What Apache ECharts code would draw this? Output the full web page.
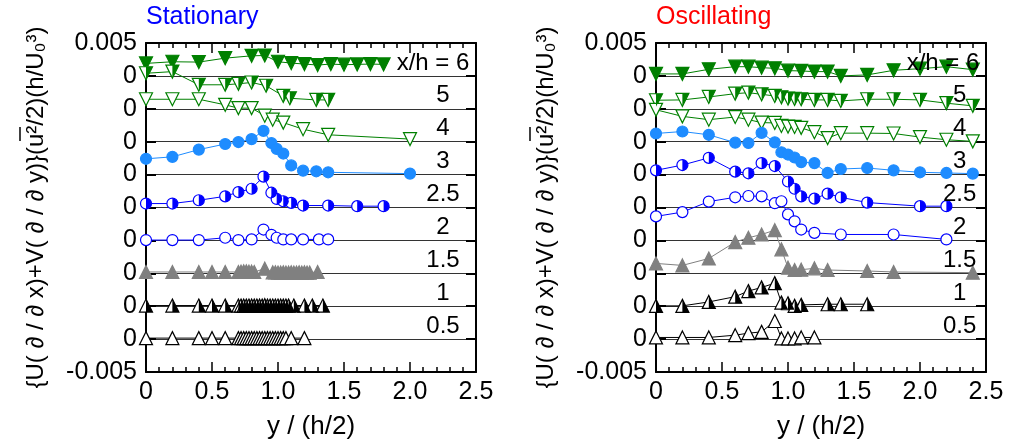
<!DOCTYPE html>
<html>
<head>
<meta charset="utf-8">
<script src="https://cdn.jsdelivr.net/npm/echarts@6/dist/echarts.min.js"></script>
<style>
html, body { margin: 0; padding: 0; background: #fff; }
#chart { width: 1021px; height: 445px; }
</style>
</head>
<body>
<div id="chart"></div>
<script>
// Profile names (top to bottom) and the vertical offset each profile is drawn at
const profileLabels = ['x/h = 6', '5', '4', '3', '2.5', '2', '1.5', '1', '0.5'];
const profileOffsets = [0.004, 0.003, 0.002, 0.001, 0, -0.001, -0.002, -0.003, -0.004];
const xTickLabels = ['0', '0.5', '1.0', '1.5', '2.0', '2.5'];
const yTickLabels = ['-0.005', '0', '0', '0', '0', '0', '0', '0', '0', '0', '0.005'];
const panelTitles = ['Stationary', 'Oscillating'];

// ---- Stationary cylinder ----
const statX6 = [0, 0.2, 0.4, 0.6, 0.8, 0.9, 1.0, 1.1, 1.2, 1.3, 1.4, 1.5, 1.6, 1.7, 1.8];
const statV6 = [0.00038, 0.00043, 0.00042, 0.00054, 0.00061, 0.00062, 0.00043, 0.00039, 0.00036, 0.00033, 0.00036, 0.00034, 0.00035, 0.00036, 0.00035];
const statX5 = [0, 0.2, 0.4, 0.6, 0.7, 0.8, 0.91, 1.04, 1.09, 1.29, 1.38];
const statV5 = [0.00108, 0.00113, 0.00073, 0.00073, 0.00076, 0.0008, 0.0007, 0.00039, 0.00032, 0.00027, 0.00027];
const statX4 = [0, 0.2, 0.4, 0.6, 0.7, 0.8, 0.9, 0.96, 1.04, 1.19, 1.38, 2.0];
const statV4 = [0.00129, 0.00129, 0.00129, 0.00112, 0.00102, 0.00102, 0.00079, 0.00067, 0.00058, 0.00038, 0.00021, 0.00008];
const statX3 = [0, 0.2, 0.4, 0.6, 0.7, 0.8, 0.89, 0.95, 0.99, 1.04, 1.1, 1.19, 1.29, 1.38, 2.0];
const statV3 = [0.00048, 0.00054, 0.00076, 0.00093, 0.00099, 0.00108, 0.00133, 0.00096, 0.00078, 0.00064, 0.00028, 0.00012, 0.0001, 0.00007, 0.00003];
const statX25 = [0, 0.2, 0.4, 0.6, 0.7, 0.8, 0.89, 0.95, 0.99, 1.04, 1.1, 1.19, 1.38, 1.6, 1.8];
const statV25 = [0.00012, 0.00012, 0.00022, 0.00034, 0.00047, 0.00057, 0.00094, 0.00045, 0.00026, 0.00019, 0.00014, 0.00006, 0.00006, 0.00004, 0.00004];
const statX2 = [0, 0.2, 0.4, 0.6, 0.7, 0.8, 0.89, 0.95, 0.99, 1.04, 1.1, 1.19, 1.31, 1.38];
const statV2 = [0.00001, 0.00001, 0.00001, 0.00008, 0.00001, 0.00003, 0.00033, 0.00017, 0.00008, 0.00003, 0.00003, 0.00003, 0.00003, 0.00003];
const statX15 = [0, 0.2, 0.4, 0.5, 0.6, 0.7, 0.72, 0.74, 0.76, 0.78, 0.8, 0.82, 0.9, 0.96, 0.98, 1.0, 1.02, 1.04, 1.06, 1.08, 1.1, 1.12, 1.14, 1.16, 1.18, 1.2, 1.22, 1.24, 1.3];
const statV15 = [0.00004, 0.00004, 0.00004, 0.00004, 0.00004, 0.00004, 0.00005, 0.00006, 0.00006, 0.00005, 0.00005, 0.00004, 0.00014, 0.00003, 0.00003, 0.00002, 0.00002, 0.00003, 0.00002, 0.00002, 0.00003, 0.00002, 0.00002, 0.00003, 0.00002, 0.00003, 0.00002, 0.00002, 0.00004];
const statX1 = [0, 0.2, 0.4, 0.5, 0.6, 0.7, 0.72, 0.74, 0.76, 0.78, 0.8, 0.82, 0.84, 0.86, 0.88, 0.9, 0.92, 0.94, 0.96, 0.98, 1.0, 1.02, 1.04, 1.06, 1.08, 1.12, 1.2, 1.26, 1.34];
const statV1 = [0.00002, 0.00002, 0.00002, 0.00002, 0.00002, 0.00002, 0.00002, 0.00002, 0.00002, 0.00002, 0.00002, 0.00002, 0.00002, 0.00002, 0.00002, 0.00003, 0.00002, 0.00002, 0.00002, 0.00002, 0.00002, 0.00002, 0.00002, 0.00002, 0.00002, 0.00002, 0.00002, 0.00002, 0.00002];
const statX05 = [0, 0.2, 0.4, 0.5, 0.6, 0.7, 0.72, 0.74, 0.76, 0.78, 0.8, 0.82, 0.84, 0.86, 0.88, 0.9, 0.92, 0.94, 0.96, 0.98, 1.0, 1.02, 1.04, 1.06, 1.1, 1.2];
const statV05 = [0.00003, 0.00003, 0.00003, 0.00003, 0.00003, 0.00003, 0.00003, 0.00003, 0.00003, 0.00003, 0.00003, 0.00003, 0.00003, 0.00003, 0.00003, 0.00003, 0.00003, 0.00003, 0.00003, 0.00003, 0.00003, 0.00003, 0.00003, 0.00003, 0.00003, 0.00003];

// ---- Oscillating cylinder ----
const oscX6 = [0, 0.2, 0.4, 0.6, 0.7, 0.8, 0.9, 1.0, 1.1, 1.2, 1.3, 1.4, 1.6, 1.8, 2.0, 2.2, 2.4];
const oscV6 = [0.00006, 0.00006, 0.0002, 0.00028, 0.00028, 0.00025, 0.00023, 0.00016, 0.00015, 0.00013, 0.00013, 0.0, 0.00003, 0.00017, 0.00022, 0.00028, 0.00019];
const oscX5 = [0, 0.2, 0.4, 0.6, 0.7, 0.8, 0.9, 0.95, 1.0, 1.05, 1.1, 1.2, 1.3, 1.4, 1.6, 1.8, 2.0, 2.2, 2.4];
const oscV5 = [0.00026, 0.00027, 0.00036, 0.00046, 0.00049, 0.00044, 0.00039, 0.00035, 0.00031, 0.0003, 0.00029, 0.00027, 0.00027, 0.00024, 0.00029, 0.00029, 0.00027, 0.00017, 0.00009];
const oscX4 = [0, 0.2, 0.4, 0.6, 0.7, 0.8, 0.9, 0.95, 1.0, 1.05, 1.1, 1.2, 1.3, 1.4, 1.6, 1.8, 2.0, 2.2, 2.4];
const oscV4 = [0.00097, 0.00077, 0.00067, 0.00075, 0.00067, 0.00058, 0.00057, 0.00048, 0.00046, 0.00045, 0.00042, 0.00029, 0.00011, 0.00026, 0.00026, 0.00025, 0.00014, 0.00006, 0.00001];
const oscX3 = [0, 0.2, 0.4, 0.6, 0.7, 0.8, 0.9, 0.95, 1.0, 1.05, 1.1, 1.2, 1.3, 1.4, 1.6, 1.8, 2.0, 2.2, 2.4];
const oscV3 = [0.00125, 0.00131, 0.00121, 0.00097, 0.00096, 0.00127, 0.00098, 0.00068, 0.00061, 0.00052, 0.00038, 0.00035, 0.00005, 0.00017, 0.0002, 0.00013, 0.00007, 0.00005, 0.00003];
const oscX25 = [0, 0.2, 0.4, 0.6, 0.7, 0.8, 0.9, 1.0, 1.05, 1.1, 1.2, 1.3, 1.4, 1.6, 2.0, 2.2];
const oscV25 = [0.00113, 0.00129, 0.00151, 0.00109, 0.00104, 0.00135, 0.00126, 0.00079, 0.00057, 0.00034, 0.00027, 0.00042, 0.00031, 0.00015, 0.00004, 0.00004];
const oscX2 = [0, 0.2, 0.4, 0.6, 0.7, 0.8, 0.9, 0.95, 1.0, 1.05, 1.1, 1.2, 1.4, 1.8, 2.2];
const oscV2 = [0.00073, 0.00086, 0.00118, 0.00131, 0.00135, 0.00134, 0.00113, 0.00119, 0.00079, 0.00058, 0.00033, 0.00023, 0.00018, 0.00018, 0.00003];
const oscX15 = [0, 0.2, 0.4, 0.6, 0.7, 0.8, 0.9, 0.95, 1.0, 1.05, 1.1, 1.2, 1.3, 1.6, 1.8, 2.4];
const oscV15 = [0.0003, 0.00024, 0.00045, 0.00095, 0.00108, 0.00118, 0.00131, 0.00073, 0.00017, 0.0001, 0.00011, 0.00015, 0.0001, 0.00007, 0.00004, 0.00002];
const oscX1 = [0, 0.2, 0.4, 0.6, 0.7, 0.8, 0.9, 0.95, 1.0, 1.05, 1.1, 1.3, 1.4, 1.6];
const oscV1 = [0.00001, 0.00001, 0.00013, 0.00029, 0.00046, 0.00057, 0.0007, 0.00011, 0.00009, 0.00001, 0.00004, 0.00006, 0.00006, 0.00006];
const oscX05 = [0, 0.2, 0.4, 0.6, 0.7, 0.8, 0.9, 0.95, 1.0, 1.05, 1.1, 1.2];
const oscV05 = [0.00005, 0.00005, 0.00005, 0.00012, 0.00018, 0.00022, 0.00055, 0.00002, 0.00002, 0.00002, 0.00005, 0.00005];

const statRows = [[statX6, statV6], [statX5, statV5], [statX4, statV4], [statX3, statV3], [statX25, statV25], [statX2, statV2], [statX15, statV15], [statX1, statV1], [statX05, statV05]];
const oscRows = [[oscX6, oscV6], [oscX5, oscV5], [oscX4, oscV4], [oscX3, oscV3], [oscX25, oscV25], [oscX2, oscV2], [oscX15, oscV15], [oscX1, oscV1], [oscX05, oscV05]];

const FONT = '"Liberation Sans", Arial, Helvetica, sans-serif';
const GREEN = '#008000', SKY = '#1e8cff', BLUE = '#0000ff', GRAY = '#808080', BLACK = '#000000';

// half-shapes used to fill the right half of a marker
const HALF_DOWN = 'path://M0,0 L1,0 L0,2 Z';
const HALF_UP = 'path://M0,0 L1,2 L0,2 Z';
const HALF_CIRCLE = 'path://M0,0 A1,1 0 0 1 0,2 Z';

// marker style for each profile, top to bottom
const markerStyles = [
  { symbol: 'triangle', rotate: 180, size: 13, color: GREEN, fill: 'solid' },
  { symbol: 'triangle', rotate: 180, size: 13, color: GREEN, fill: 'half', half: HALF_DOWN },
  { symbol: 'triangle', rotate: 180, size: 13, color: GREEN, fill: 'open' },
  { symbol: 'circle', rotate: 0, size: 11, color: SKY, fill: 'solid' },
  { symbol: 'circle', rotate: 0, size: 11, color: BLUE, fill: 'half', half: HALF_CIRCLE },
  { symbol: 'circle', rotate: 0, size: 11, color: BLUE, fill: 'open' },
  { symbol: 'triangle', rotate: 0, size: 13, color: GRAY, fill: 'solid' },
  { symbol: 'triangle', rotate: 0, size: 13, color: BLACK, fill: 'half', half: HALF_UP },
  { symbol: 'triangle', rotate: 0, size: 13, color: BLACK, fill: 'open' }
];

function profileSeries(panel, rows) {
  const out = [];
  rows.forEach(function (row, i) {
    const st = markerStyles[i];
    const pts = row[0].map(function (x, k) { return [x, profileOffsets[i] + row[1][k]]; });
    out.push({
      type: 'line', xAxisIndex: panel * 2, yAxisIndex: panel * 2,
      data: pts, symbol: st.symbol, symbolRotate: st.rotate, symbolSize: st.size,
      showSymbol: true, showAllSymbol: true, silent: true, animation: false, z: 3,
      lineStyle: { color: st.color, width: 1 },
      itemStyle: { color: st.fill === 'solid' ? st.color : '#ffffff', borderColor: st.color, borderWidth: 1.2, opacity: 1 }
    });
    if (st.fill === 'half') {
      out.push({
        type: 'scatter', xAxisIndex: panel * 2, yAxisIndex: panel * 2,
        data: pts, symbol: st.half, symbolSize: [st.size / 2, st.size],
        symbolOffset: [st.size / 4, 0], silent: true, animation: false, z: 4,
        itemStyle: { color: st.color, opacity: 1 }
      });
    }
  });
  return out;
}

// labels naming each profile, sitting just above its baseline
function labelSeries(panel, anchorX) {
  return {
    type: 'scatter', xAxisIndex: panel * 2, yAxisIndex: panel * 2,
    symbolSize: 0, silent: true, animation: false, z: 5,
    itemStyle: { opacity: 1, color: '#000' },
    data: profileLabels.map(function (t, i) {
      const first = i === 0;
      return {
        value: [first ? 2.45 : anchorX, profileOffsets[i]],
        label: {
          show: true, position: 'top', distance: 1, formatter: t,
          align: first ? 'right' : 'center',
          color: '#000', opacity: 1, fontSize: 24, fontFamily: FONT
        }
      };
    })
  };
}

const axisLineStyle = { color: '#000', width: 2 };

function xAxes(g) {
  return [
    {
      type: 'value', gridIndex: g, position: 'bottom', min: 0, max: 2.5, interval: 0.5,
      axisLine: { show: true, onZero: false, lineStyle: axisLineStyle },
      axisTick: { show: true, inside: true, length: 10, lineStyle: { color: '#000', width: 1.5 } },
      minorTick: { show: true, splitNumber: 5, length: 5, lineStyle: { color: '#000', width: 1.5 } },
      splitLine: { show: false },
      axisLabel: {
        margin: 8, color: '#000', fontSize: 25, fontFamily: FONT,
        formatter: function (v) { return xTickLabels[Math.round(v / 0.5)]; }
      },
      name: 'y / (h/2)', nameLocation: 'middle', nameGap: 42,
      nameTextStyle: { color: '#000', fontSize: 26, fontFamily: FONT }
    },
    {
      type: 'value', gridIndex: g, position: 'top', min: 0, max: 2.5, interval: 0.5,
      axisLine: { show: true, onZero: false, lineStyle: axisLineStyle },
      axisTick: { show: true, inside: true, length: 10, lineStyle: { color: '#000', width: 1.5 } },
      minorTick: { show: true, splitNumber: 5, length: 5, lineStyle: { color: '#000', width: 1.5 } },
      splitLine: { show: false }, axisLabel: { show: false }
    }
  ];
}

function yAxes(g) {
  return [
    {
      type: 'value', gridIndex: g, position: 'left', min: -0.005, max: 0.005, interval: 0.001,
      axisLine: { show: true, onZero: false, lineStyle: axisLineStyle },
      axisTick: { show: true, inside: true, length: 10, lineStyle: { color: '#000', width: 2 } },
      splitLine: { show: true, lineStyle: { color: '#333', width: 1 } },
      axisLabel: {
        margin: 9, color: '#000', fontSize: 25, fontFamily: FONT,
        formatter: function (v) { return yTickLabels[Math.round((v + 0.005) / 0.001)]; }
      },
      name: '{U( \u2202 / \u2202 x)+V( \u2202 / \u2202 y)}(u\u00b2/2)(h/U\u2080\u00b3)',
      nameLocation: 'middle', nameRotate: 90, nameGap: 98,
      nameTextStyle: { color: '#000', fontSize: 24, fontFamily: FONT }
    },
    {
      type: 'value', gridIndex: g, position: 'right', min: -0.005, max: 0.005, interval: 0.001,
      axisLine: { show: true, onZero: false, lineStyle: axisLineStyle },
      axisTick: { show: true, inside: true, length: 10, lineStyle: { color: '#000', width: 2 } },
      splitLine: { show: false }, axisLabel: { show: false }
    }
  ];
}

// overbar above the u in each rotated axis name
function overbar(x) {
  return { type: 'line', silent: true, z: 10, shape: { x1: x, y1: 127, x2: x, y2: 141 }, style: { stroke: '#000', lineWidth: 1.5 } };
}

const chart = echarts.init(document.getElementById('chart'), null, { renderer: 'canvas' });
chart.setOption({
  backgroundColor: '#fff',
  animation: false,
  textStyle: { fontFamily: FONT },
  title: [
    { text: panelTitles[0], left: 146, top: 5, padding: 0, textStyle: { color: '#0000ff', fontSize: 25, fontWeight: 'normal', fontFamily: FONT } },
    { text: panelTitles[1], left: 656, top: 5, padding: 0, textStyle: { color: '#ff0000', fontSize: 25, fontWeight: 'normal', fontFamily: FONT } }
  ],
  grid: [
    { left: 146, top: 43, width: 330, height: 330 },
    { left: 656, top: 43, width: 330, height: 330 }
  ],
  xAxis: xAxes(0).concat(xAxes(1)),
  yAxis: yAxes(0).concat(yAxes(1)),
  graphic: [overbar(20), overbar(530)],
  series: profileSeries(0, statRows)
    .concat(profileSeries(1, oscRows))
    .concat([labelSeries(0, 2.25), labelSeries(1, 2.3)])
});
</script>
</body>
</html>
